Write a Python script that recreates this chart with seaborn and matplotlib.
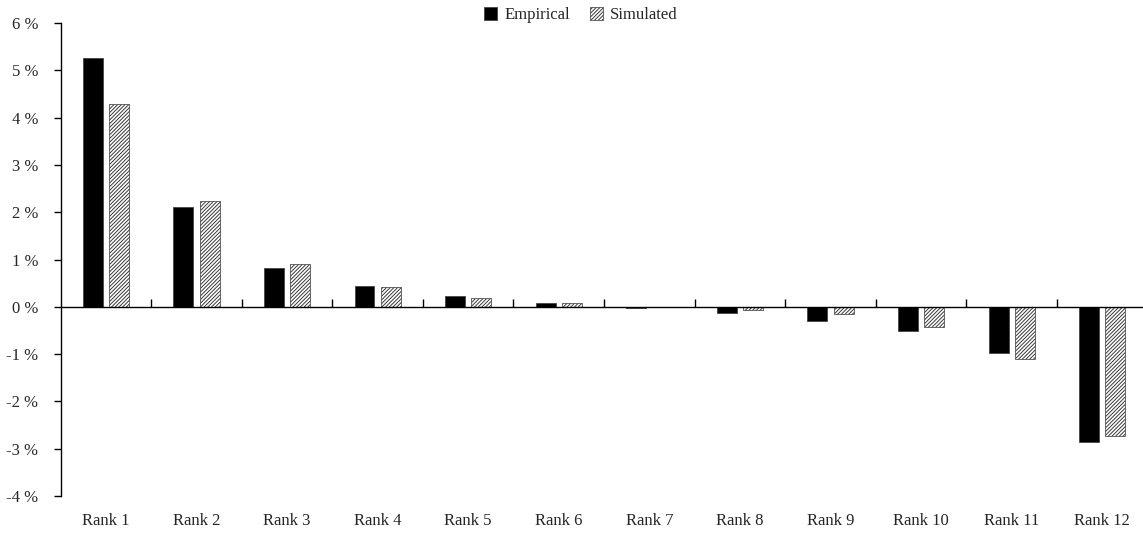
import numpy as np
import pandas as pd
import matplotlib
matplotlib.use("Agg")
import matplotlib.pyplot as plt
import matplotlib.patches as mpatches
import seaborn as sns

ranks = [f"Rank {i}" for i in range(1, 13)]
empirical = [5.26, 2.12, 0.83, 0.43, 0.22, 0.08, -0.03, -0.14, -0.29, -0.52, -0.97, -2.86]
simulated = [4.29, 2.23, 0.90, 0.41, 0.19, 0.07, -0.01, -0.07, -0.16, -0.43, -1.11, -2.73]
series = ["Empirical", "Simulated"]
yticks = [-4, -3, -2, -1, 0, 1, 2, 3, 4, 5, 6]

df = pd.DataFrame({
    "rank": ranks * 2,
    "value": empirical + simulated,
    "series": [series[0]] * len(ranks) + [series[1]] * len(ranks),
})

sns.set_style("white")
plt.rcParams["font.family"] = ["Liberation Serif", "DejaVu Serif"]
plt.rcParams["hatch.linewidth"] = 0.7

fig = plt.figure(figsize=(11.43, 5.36), dpi=100)
ax = fig.add_axes([0.0530, 0.0746, 0.951, 0.8825])

sns.barplot(data=df, x="rank", y="value", hue="series", order=ranks,
            hue_order=series, palette=["black", "white"], width=0.58, gap=0.24,
            legend=False, ax=ax, errorbar=None, saturation=1)

HATCH = "/////////"
HCOL = "#383838"
n = len(ranks)
for i, p in enumerate(ax.patches[:2 * n]):
    if i < n:
        p.set_facecolor("black")
        p.set_edgecolor("#444444")
        p.set_linewidth(0.6)
    else:
        p.set_facecolor("white")
        p.set_edgecolor(HCOL)
        p.set_hatch(HATCH)
        p.set_linewidth(0.5)

ax.set_xlim(-0.5, n - 0.5)
ax.set_ylim(-4, 6)
ax.set_yticks(yticks)
ax.set_yticklabels([f"{v} %" for v in yticks])
ax.set_xlabel("")
ax.set_ylabel("")

for s in ["top", "right"]:
    ax.spines[s].set_visible(False)
ax.spines["left"].set_color("black")
ax.spines["left"].set_linewidth(1.0)
ax.spines["bottom"].set_position(("data", 0))
ax.spines["bottom"].set_color("black")
ax.spines["bottom"].set_linewidth(1.0)

ax.set_xticks(np.arange(0.5, n - 1, 1.0))
ax.set_xticklabels([])
ax.tick_params(axis="x", direction="in", length=6, width=1, color="black", bottom=True)
ax.tick_params(axis="y", direction="out", length=5, width=1, color="black", left=True,
               labelsize=12, pad=11)

sec = ax.secondary_xaxis("bottom")
sec.set_xticks(range(n))
sec.set_xticklabels(ranks)
sec.tick_params(length=0, pad=12, labelsize=12)
sec.spines["bottom"].set_visible(False)

handles = [
    mpatches.Patch(facecolor="black", edgecolor="#444444", linewidth=0.6),
    mpatches.Patch(facecolor="white", edgecolor=HCOL, hatch=HATCH, linewidth=0.5),
]
fig.legend(handles, series, loc="center", bbox_to_anchor=(0.508, 0.972), ncol=2,
           frameon=False, fontsize=12, handlelength=0.8, handleheight=0.8,
           handletextpad=0.4, columnspacing=1.2)

fig.savefig("out.png", dpi=100)
